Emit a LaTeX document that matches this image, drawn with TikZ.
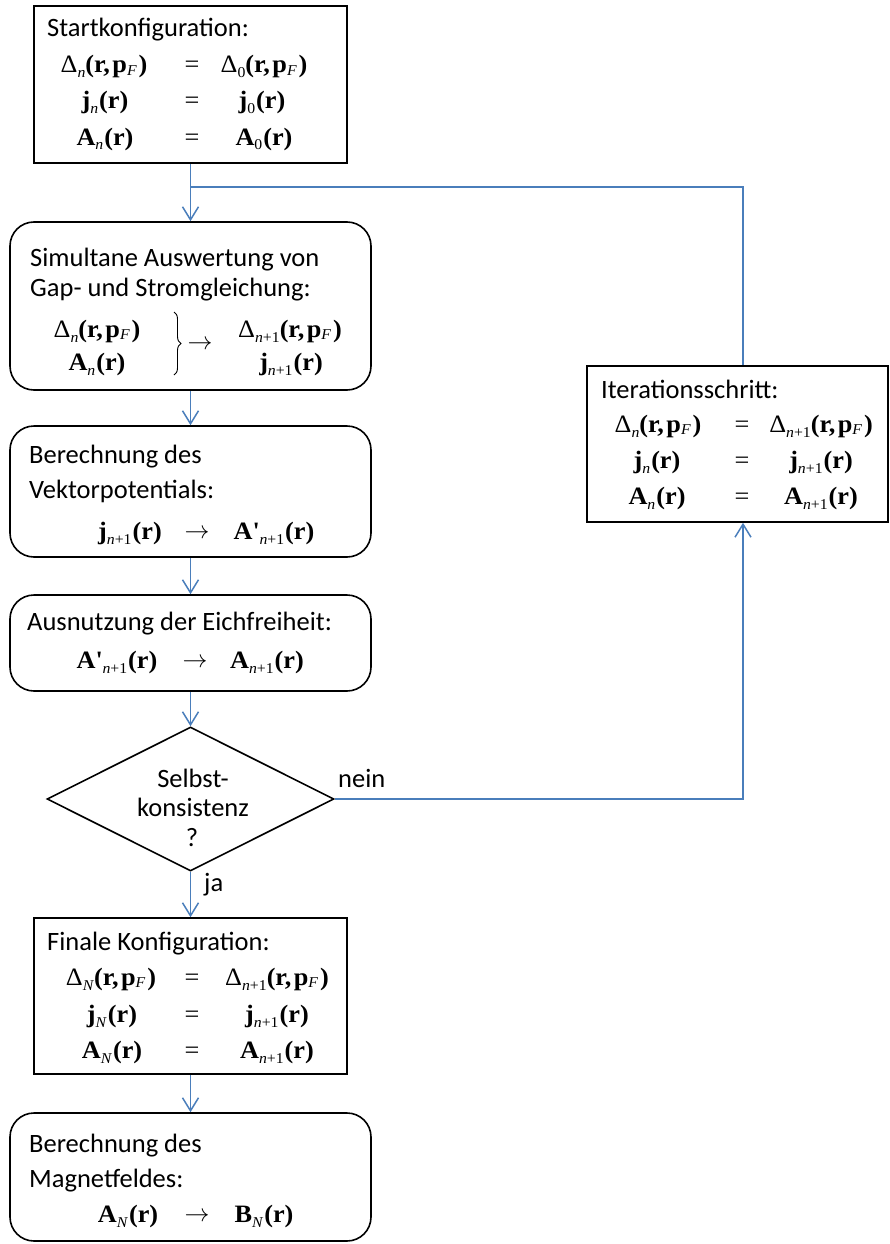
\documentclass[tikz,border=0pt]{standalone}
\usepackage{fontspec}
\setmainfont{Carlito}
\newfontfamily\tms[FakeStretch=1.05]{Liberation Serif}
\usetikzlibrary{shapes.geometric,arrows.meta,calc,decorations.pathreplacing}
\definecolor{lineblue}{RGB}{74,126,187}
\newcommand\sbn[1]{\raisebox{-5pt}{\fontsize{15}{15}\selectfont\mdseries #1}}
\newcommand\sbF{\raisebox{-2.5pt}{\fontsize{15}{15}\selectfont\mdseries\itshape F}}
\newcommand\Dd[1]{Δ\sbn{#1}\textbf{(r,\kern2.5pt p}\sbF\kern2pt\textbf{)}}
\newcommand\Vf[2]{\textbf{#1}\sbn{#2}\kern1pt\textbf{(r)}}
\newcommand\Ap{A\textquotesingle}
\newcommand\np{\textit{n}+1}
\newcommand\ra{\raisebox{1pt}{\fontsize{25}{25}\selectfont$\rightarrow$}}
\begin{document}
\begin{tikzpicture}[x=1pt,y=-1pt,
  box/.style={draw, line width=1.6pt, inner sep=0pt},
  rbox/.style={box, rounded corners=24pt},
  flow/.style={draw=lineblue, line width=1.5pt},
  arr/.style={flow, -{Straight Barb[length=13pt,width=16pt]}},
  tx/.style={font=\fontsize{26.5}{30}\selectfont, inner sep=0pt, anchor=base west},
  ctx/.style={tx, anchor=base},
  mt/.style={font=\tms\fontsize{25}{25}\selectfont, inner sep=0pt, anchor=base},
  bracestyle/.style={draw, line width=0.9pt, decorate, decoration={brace, amplitude=7pt}}]
\useasboundingbox (0,0) rectangle (890,1244);

% boxes
\node[box, minimum width=313pt, minimum height=157pt] (start) at (190.5,84.5) {};
\node[rbox, minimum width=361pt, minimum height=168pt] (sim) at (190.5,306) {};
\node[rbox, minimum width=361pt, minimum height=131pt] (vec) at (190.5,491.5) {};
\node[rbox, minimum width=361pt, minimum height=96pt] (aus) at (190.5,643) {};
\node[draw, line width=1.6pt, diamond, inner sep=0pt, minimum width=287pt, minimum height=144pt] (dia) at (190.5,799) {};
\node[box, minimum width=313pt, minimum height=156pt] (fin) at (190.5,996) {};
\node[rbox, minimum width=361pt, minimum height=128pt] (mag) at (190.5,1177) {};
\node[box, minimum width=301pt, minimum height=156pt] (iter) at (737.5,444) {};

% Startkonfiguration
\node[tx] (startT) at (47,37) {Startkonfiguration:};
\node[mt] (s1l) at (104,73) {\Dd{\textit{n}}};
\node[mt] (s1m) at (192,73) {=};
\node[mt] (s1r) at (264,73) {\Dd{0}};
\node[mt] (s2l) at (105,109) {\Vf{j}{\textit{n}}};
\node[mt] (s2m) at (192,109) {=};
\node[mt] (s2r) at (262,109) {\Vf{j}{0}};
\node[mt] (s3l) at (105,145) {\Vf{A}{\textit{n}}};
\node[mt] (s3m) at (192,145) {=};
\node[mt] (s3r) at (264,145) {\Vf{A}{0}};

% Simultane Auswertung
\node[tx] (simT1) at (30,266) {Simultane Auswertung von};
\node[tx] (simT2) at (30,296) {Gap- und Stromgleichung:};
\node[mt] (m1l) at (97,337) {\Dd{\textit{n}}};
\node[mt] (m2l) at (97,370) {\Vf{A}{\textit{n}}};
\draw[bracestyle] (174,312) -- (174,375);
\node[mt] (marr) at (200,350) {\ra};
\node[mt] (m1r) at (290,337) {\Dd{\np}};
\node[mt] (m2r) at (291,370) {\Vf{j}{\np}};

% Vektorpotential
\node[tx] (vecT1) at (29,463) {Berechnung des};
\node[tx] (vecT2) at (29,498) {Vektorpotentials:};
\node[mt] (v1l) at (130,539) {\Vf{j}{\np}};
\node[mt] (v1m) at (197,539) {\ra};
\node[mt] (v1r) at (274,539) {\Vf{\Ap}{\np}};

% Eichfreiheit
\node[tx] (ausT) at (27,630) {Ausnutzung der Eichfreiheit:};
\node[mt] (a1l) at (117,668) {\Vf{\Ap}{\np}};
\node[mt] (a1m) at (195,668) {\ra};
\node[mt] (a1r) at (267,668) {\Vf{A}{\np}};

% Selbstkonsistenz
\node[ctx] (diaT1) at (193,787) {Selbst-};
\node[ctx] (diaT2) at (193,816) {konsistenz};
\node[ctx] (diaT3) at (192,846) {?};

% Finale Konfiguration
\node[tx] (finT) at (47,950) {Finale Konfiguration:};
\node[mt] (f1l) at (111,985) {\Dd{\textit{N}}};
\node[mt] (f1m) at (192,985) {=};
\node[mt] (f1r) at (277,985) {\Dd{\np}};
\node[mt] (f2l) at (112,1022) {\Vf{j}{\textit{N}}};
\node[mt] (f2m) at (192,1022) {=};
\node[mt] (f2r) at (277,1022) {\Vf{j}{\np}};
\node[mt] (f3l) at (112,1058) {\Vf{A}{\textit{N}}};
\node[mt] (f3m) at (192,1058) {=};
\node[mt] (f3r) at (277,1058) {\Vf{A}{\np}};

% Magnetfeld
\node[tx] (magT1) at (29,1152) {Berechnung des};
\node[tx] (magT2) at (29,1187) {Magnetfeldes:};
\node[mt] (g1l) at (128,1222) {\Vf{A}{\textit{N}}};
\node[mt] (g1m) at (197,1222) {\ra};
\node[mt] (g1r) at (264,1222) {\Vf{B}{\textit{N}}};

% Iterationsschritt
\node[tx] (iterT) at (601,398) {Iterationsschritt:};
\node[mt] (i1l) at (658,432) {\Dd{\textit{n}}};
\node[mt] (i1m) at (742,432) {=};
\node[mt] (i1r) at (821,432) {\Dd{\np}};
\node[mt] (i2l) at (657,468) {\Vf{j}{\textit{n}}};
\node[mt] (i2m) at (742,468) {=};
\node[mt] (i2r) at (821,468) {\Vf{j}{\np}};
\node[mt] (i3l) at (657,504) {\Vf{A}{\textit{n}}};
\node[mt] (i3m) at (742,504) {=};
\node[mt] (i3r) at (821,504) {\Vf{A}{\np}};

% labels
\node[tx] (nein) at (338,787) {nein};
\node[tx] (ja) at (204,891) {ja};

% connectors
\coordinate (br) at ($(start.south)+(0,23)$);
\draw[arr] (start.south) -- (sim.north);
\draw[flow] (br) -| ([xshift=5.5pt]iter.north);
\draw[arr] (sim.south) -- (vec.north);
\draw[arr] (vec.south) -- (aus.north);
\draw[arr] (aus.south) -- (dia.north);
\draw[arr] (dia.south) -- (fin.north);
\draw[arr] (fin.south) -- (mag.north);
\draw[arr] (dia.east) -| ([xshift=5.5pt]iter.south);
\end{tikzpicture}
\end{document}
